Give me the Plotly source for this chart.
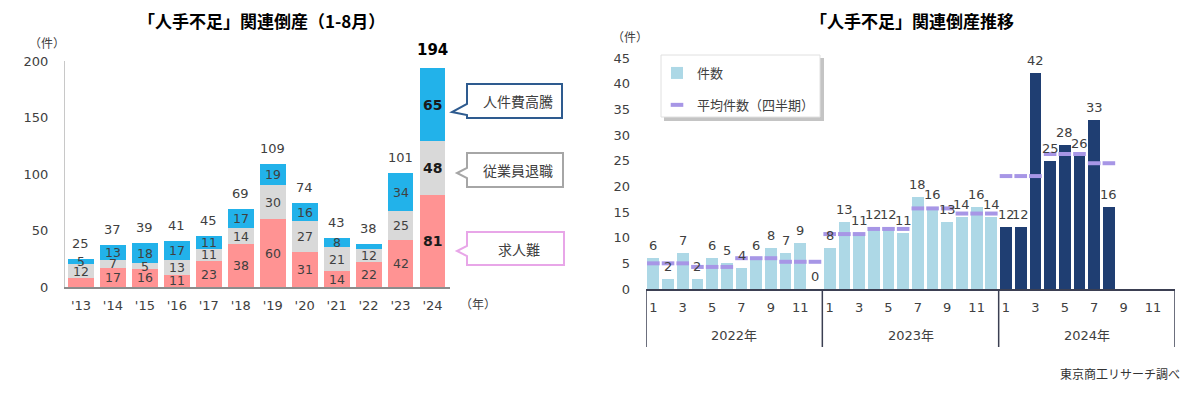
import plotly.graph_objects as go

# page body has an 8px default margin: figure is sized/offset so pixels match the reference
OX, OY = 8, 8
W, H = 1192, 385

# ---------------- data: left chart ----------------
years = ["'13", "'14", "'15", "'16", "'17", "'18", "'19", "'20", "'21", "'22", "'23", "'24"]
kyujin = [8, 17, 16, 11, 23, 38, 60, 31, 14, 22, 42, 81]        # 求人難
taishoku = [12, 7, 5, 13, 11, 14, 30, 27, 21, 12, 25, 48]       # 従業員退職
jinkenhi = [5, 13, 18, 17, 11, 17, 19, 16, 8, 4, 34, 65]        # 人件費高騰
totals = [25, 37, 39, 41, 45, 69, 109, 74, 43, 38, 101, 194]
y_ticks_left = [0, 50, 100, 150, 200]

# ---------------- data: right chart ----------------
months = [1, 2, 3, 4, 5, 6, 7, 8, 9, 10, 11, 12]
cal_years = ["2022年", "2023年", "2024年"]
count_2022 = [6, 2, 7, 2, 6, 5, 4, 6, 8, 7, 9, 0]
count_2023 = [8, 13, 11, 12, 12, 11, 18, 16, 13, 14, 16, 14]
count_2024 = [12, 12, 42, 25, 28, 26, 33, 16]
avg_2022 = [5, 5, 5, 4.3, 4.3, 4.3, 6, 6, 6, 5.3, 5.3, 5.3]
avg_2023 = [10.7, 10.7, 10.7, 11.7, 11.7, 11.7, 15.7, 15.7, 15.7, 14.7, 14.7, 14.7]
avg_2024 = [22, 22, 22, 26.3, 26.3, 26.3, 24.5, 24.5]
tick_months = [1, 3, 5, 7, 9, 11]
y_ticks_right = [0, 5, 10, 15, 20, 25, 30, 35, 40, 45]

# ---------------- styles ----------------
FONT = "DejaVu Sans, Noto Sans CJK JP, sans-serif"
CJK = "Noto Sans CJK JP, sans-serif"
TXT = "#404040"
PINK = "#ff9393"
GRAY = "#d9d9d9"
BLUE = "#22b2ea"
LIGHT = "#add8e6"
NAVY = "#1f3e72"
LAV = "#a796e6"


def px(x):
    return (x - OX) / W


def py(y):
    return 1 - (y - OY) / H


fig = go.Figure()

# ---------- left stacked bars ----------
for name, vals, col in [("求人難", kyujin, PINK), ("従業員退職", taishoku, GRAY), ("人件費高騰", jinkenhi, BLUE)]:
    fig.add_trace(go.Bar(x=years, y=vals, name=name, marker_color=col, marker_line_width=0,
                         xaxis="x", yaxis="y", showlegend=False, hoverinfo="skip"))

annotations = []
hidden = {("kyujin", 0), ("jinkenhi", 9)}
series = [("kyujin", kyujin), ("taishoku", taishoku), ("jinkenhi", jinkenhi)]
for i, yr in enumerate(years):
    base = 0
    last = (i == len(years) - 1)
    for key, vals in series:
        v = vals[i]
        if (key, i) not in hidden:
            annotations.append(dict(x=yr, y=base + v / 2, xref="x", yref="y", text=str(v),
                                    showarrow=False, xanchor="center", yanchor="middle",
                                    font=dict(family=FONT, size=14 if last else 12.5,
                                              color="#1a1a1a" if last else TXT,
                                              weight="bold" if last else "normal")))
        base += v
    annotations.append(dict(x=yr, y=totals[i], xref="x", yref="y", text=str(totals[i]),
                            showarrow=False, xanchor="center", yanchor="bottom", yshift=7 if last else 6,
                            font=dict(family=FONT, size=15 if last else 13,
                                      color="#000000" if last else TXT,
                                      weight="bold" if last else "normal")))

# ---------- right chart ----------
all_counts = [count_2022, count_2023, count_2024]
all_avgs = [avg_2022, avg_2023, avg_2024]
idx_light, val_light, idx_dark, val_dark, idx_avg, val_avg = [], [], [], [], [], []
for k, (cnts, avgs) in enumerate(zip(all_counts, all_avgs)):
    for m, (c, a) in enumerate(zip(cnts, avgs)):
        idx = k * 12 + m
        if k < 2:
            idx_light.append(idx); val_light.append(c)
        else:
            idx_dark.append(idx); val_dark.append(c)
        idx_avg.append(idx); val_avg.append(a)
        annotations.append(dict(x=idx, y=c, xref="x2", yref="y2", text=str(c), showarrow=False,
                                xanchor="center", yanchor="bottom", yshift=3,
                                font=dict(family=FONT, size=13, color=TXT)))

fig.add_trace(go.Bar(x=idx_light, y=val_light, name="件数", marker_color=LIGHT, marker_line_width=0,
                     xaxis="x2", yaxis="y2", legendgroup="a", hoverinfo="skip", width=0.8))
fig.add_trace(go.Bar(x=idx_dark, y=val_dark, name="件数", marker_color=NAVY, marker_line_width=0,
                     xaxis="x2", yaxis="y2", showlegend=False, hoverinfo="skip", width=0.8))
fig.add_trace(go.Scatter(x=idx_avg, y=val_avg, name="平均件数（四半期）", mode="markers",
                         marker=dict(symbol="line-ew-open", size=9, color=LAV,
                                     line=dict(color=LAV, width=4)),
                         xaxis="x2", yaxis="y2", legendgroup="b", hoverinfo="skip"))

tickvals_r, ticktext_r = [], []
for k in range(3):
    for m in tick_months:
        tickvals_r.append(k * 12 + m - 1)
        ticktext_r.append(str(m))

shapes = []
# year dividers and year labels
for k in range(4):
    shapes.append(dict(type="line", xref="x2", yref="paper", x0=k * 12 - 0.5, x1=k * 12 - 0.5,
                       y0=py(289), y1=py(347), line=dict(color="#3b3f52", width=1.5)))
for k, yl in enumerate(cal_years):
    annotations.append(dict(x=k * 12 + 5.5, y=py(335), xref="x2", yref="paper", text=yl,
                            showarrow=False, xanchor="center", yanchor="middle",
                            font=dict(family=FONT, size=13, color=TXT)))

# legend box (with shadow)
shapes.append(dict(type="rect", xref="paper", yref="paper", x0=px(664), x1=px(824), y0=py(121), y1=py(58),
                   fillcolor="#c4c4c4", line=dict(width=0), layer="below"))
shapes.append(dict(type="rect", xref="paper", yref="paper", x0=px(661), x1=px(820), y0=py(117), y1=py(55),
                   fillcolor="white", line=dict(color="#e0e0e0", width=1), layer="below"))


# callouts for the left chart
def callout(x0, x1, y0, y1, pa, tip, pb, color, text):
    p = (f"M{px(x0)},{py(y0)} L{px(x1)},{py(y0)} L{px(x1)},{py(y1)} L{px(x0)},{py(y1)} "
         f"L{px(x0)},{py(pb)} L{px(tip[0])},{py(tip[1])} L{px(x0)},{py(pa)} Z")
    shapes.append(dict(type="path", path=p, xref="paper", yref="paper", fillcolor="white",
                       line=dict(color=color, width=2)))
    annotations.append(dict(x=px((x0 + x1) / 2 + 3), y=py((y0 + y1) / 2), xref="paper", yref="paper",
                            text=text, showarrow=False, xanchor="center", yanchor="middle",
                            font=dict(family=CJK, size=14, color=TXT)))


callout(467, 562, 84, 118, 104, (452, 112), 115, "#2e5b8f", "人件費高騰")
callout(467, 563, 153, 187, 168, (457, 173), 178, "#a6a6a6", "従業員退職")
callout(467, 564, 232, 265, 246, (457, 251), 256, "#e8a6e8", "求人難")


def label(x, y, text, size=12, color=TXT, bold=False, xanchor="center"):
    annotations.append(dict(x=px(x), y=py(y), xref="paper", yref="paper", text=text, showarrow=False,
                            xanchor=xanchor, yanchor="middle",
                            font=dict(family=CJK, size=size, color=color,
                                      weight="bold" if bold else "normal")))


# titles & misc texts
label(261, 20, "「人手不足」関連倒産（1-8月）", size=17, color="#000000", bold=True)
label(912, 20, "「人手不足」関連倒産推移", size=17, color="#000000", bold=True)
label(47, 42, "（件）")
label(630, 36, "（件）")
label(478, 303, "（年）")
label(1120, 373, "東京商工リサーチ調べ", color="#333333")

fig.update_layout(
    template="none",
    width=W, height=H,
    margin=dict(l=0, r=0, t=0, b=0, pad=0, autoexpand=False),
    paper_bgcolor="white", plot_bgcolor="rgba(0,0,0,0)",
    barmode="stack", bargap=0.19,
    font=dict(family=FONT, size=13, color=TXT),
    xaxis=dict(domain=[px(65), px(450)], type="category", showline=True, linecolor="#8c8c8c", linewidth=1.5,
               showgrid=False, ticks="", ticklabelstandoff=6, tickfont=dict(size=13, color=TXT),
               automargin=False),
    yaxis=dict(domain=[py(287), py(61)], range=[0, 200], tickvals=y_ticks_left, showline=True,
               linecolor="#c8c8c8", linewidth=1, showgrid=False, zeroline=False, ticks="",
               ticklabelstandoff=13, tickfont=dict(size=13, color=TXT), automargin=False),
    xaxis2=dict(domain=[px(646), px(1175)], range=[-0.5, 35.5], anchor="y2", tickvals=tickvals_r,
                ticktext=ticktext_r, showline=True, linecolor="#3b3f52", linewidth=1.5, showgrid=False,
                zeroline=False, ticks="", ticklabelstandoff=6, tickfont=dict(size=13, color=TXT),
                automargin=False),
    yaxis2=dict(domain=[py(289), py(58)], range=[0, 45], anchor="x2", tickvals=y_ticks_right,
                showline=False, showgrid=False, zeroline=False, ticks="", ticklabelstandoff=15,
                tickfont=dict(size=13, color=TXT), automargin=False),
    legend=dict(x=px(657), y=py(58), xanchor="left", yanchor="top", bgcolor="rgba(0,0,0,0)",
                borderwidth=0, font=dict(family=CJK, size=13, color=TXT), tracegroupgap=12,
                traceorder="grouped"),
    shapes=shapes,
    annotations=annotations,
)

fig.write_html("out.html")
